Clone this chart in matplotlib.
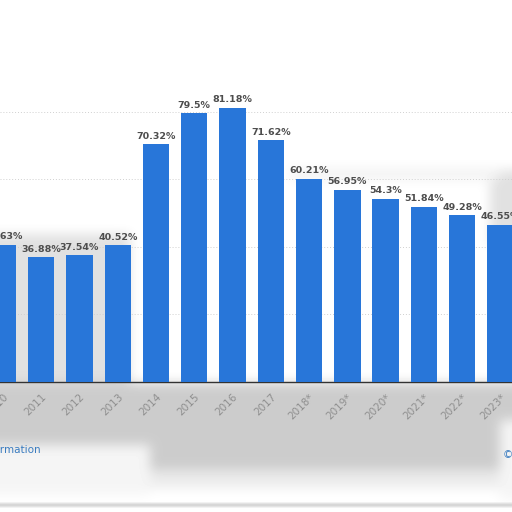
import numpy as np
import matplotlib
matplotlib.use('Agg')
import matplotlib.pyplot as plt

years = ['2010', '2011', '2012', '2013', '2014', '2015', '2016', '2017',
         '2018*', '2019*', '2020*', '2021*', '2022*', '2023*']
shares = [40.63, 36.88, 37.54, 40.52, 70.32, 79.5, 81.18, 71.62,
          60.21, 56.95, 54.3, 51.84, 49.28, 46.55]
value_labels = ['40.63%', '36.88%', '37.54%', '40.52%', '70.32%', '79.5%', '81.18%',
                '71.62%', '60.21%', '56.95%', '54.3%', '51.84%', '49.28%', '46.55%']

W = H = 512


def box_blur(a, k):
    pad = k // 2
    b = np.pad(a, pad, mode='edge')
    c = np.vstack([np.zeros((1, b.shape[1])), np.cumsum(b, axis=0)])
    b = (c[k:] - c[:-k]) / k
    c = np.hstack([np.zeros((b.shape[0], 1)), np.cumsum(b, axis=1)])
    return (c[:, k:] - c[:, :-k]) / k


fig = plt.figure(figsize=(5.12, 5.12), dpi=100)
fig.patch.set_facecolor('white')

# soft grey shading like the blurred overlay in the screenshot
shade = np.ones((H, W))
shade[383:470, :] = 0.80
shade[470:488, :] = 0.92
shade[445:495, :150] = 0.96
shade[420:500, 500:] = 0.96
shade[234:383, :130] = 0.88
shade[170:245, 490:] = 0.88
shade[168:180, 290:500] = 0.95
for _ in range(3):
    shade = box_blur(shade, 11)
shade[503:507, :] = 0.84
shade = box_blur(shade, 3)
bg = fig.add_axes([0, 0, 1, 1], zorder=-1)
bg.imshow(shade, cmap='gray', vmin=0, vmax=1, aspect='auto',
          extent=(0, W, H, 0), interpolation='bilinear')
bg.set_xlim(0, W)
bg.set_ylim(H, 0)
bg.axis('off')

ax = fig.add_axes([0, 1 - 382 / H, 1, 382 / H])
ax.patch.set_alpha(0)
x = np.arange(len(years))
px_per_unit = 38.26
ax.set_xlim(-3 / px_per_unit, -3 / px_per_unit + W / px_per_unit)
ax.set_ylim(0, 382 / 3.379)

ax.bar(x, shares, width=0.69, color='#2876d9', zorder=3)
for xi, v, lab in zip(x, shares, value_labels):
    ax.annotate(lab, (xi, v), xytext=(0, 2.5), textcoords='offset points',
                ha='center', va='bottom', fontsize=6.8, fontweight='bold',
                color='#4d4d4d', zorder=4)

ax.set_yticks([20, 40, 60, 80])
ax.yaxis.grid(True, ls=(0, (1, 2)), color='#d0d0d0', lw=0.7, zorder=0)
ax.tick_params(axis='y', left=False, labelleft=False)
ax.set_xticks(x)
ax.set_xticklabels(years, rotation=45, ha='right', rotation_mode='anchor',
                   fontsize=7.5, color='#8f8f8f')
ax.tick_params(axis='x', length=0, pad=7)
for s in ['top', 'right', 'left']:
    ax.spines[s].set_visible(False)
ax.spines['bottom'].set_color('#333333')
ax.spines['bottom'].set_linewidth(1.0)

fig.text(41 / W, 1 - 450 / H, 'Additional Information', ha='right', va='center',
         fontsize=7.5, color='#3a7cc0')
fig.text(503 / W, 1 - 455 / H, '© Statista 2024', ha='left', va='center',
         fontsize=7.5, color='#3a7cc0')

fig.savefig('out.png', dpi=100)
